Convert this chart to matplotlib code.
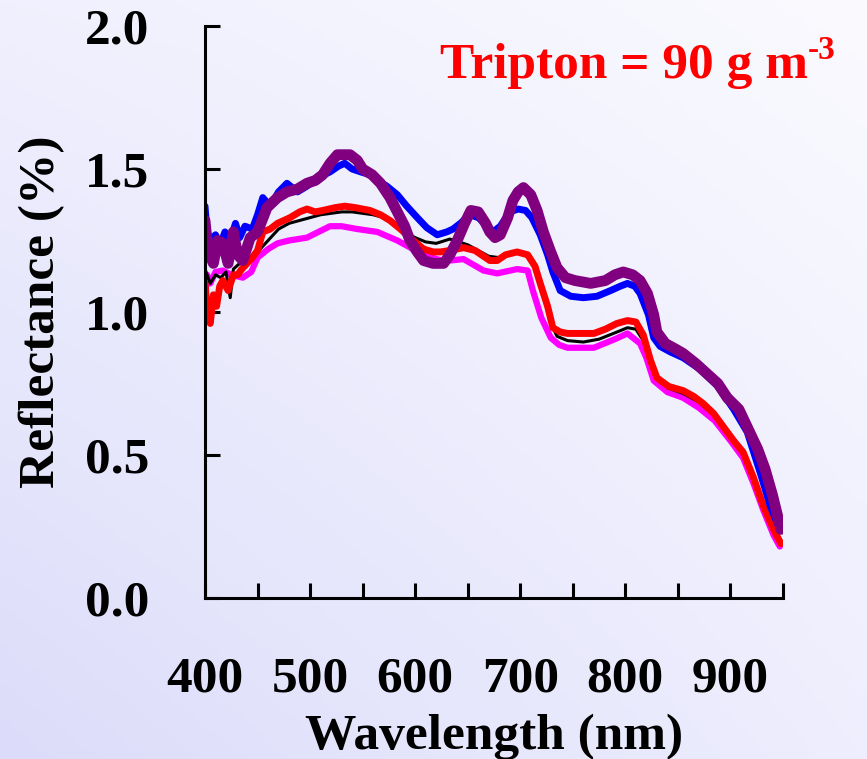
import numpy as np
import matplotlib
matplotlib.use("Agg")
import matplotlib.pyplot as plt

plt.rcParams['font.family'] = ['Liberation Serif', 'DejaVu Serif']
plt.rcParams['font.weight'] = 'bold'

# reflectance spectra, tripton 90 g m-3
wl_purple = [400, 403, 408, 412, 417, 422, 427, 431, 436, 443, 450, 459, 469, 478, 488, 497,
             505, 512, 519, 526, 531, 538, 545, 550, 559, 567, 576, 583, 590, 595, 602, 608,
             617, 627, 633, 640, 647, 653, 660, 667, 671, 676, 681, 688, 693, 698, 703, 710,
             716, 722, 729, 735, 743, 752, 767, 781, 790, 798, 807, 814, 821, 827, 830, 838,
             848, 855, 867, 876, 888, 897, 908, 917, 926, 933, 940, 946, 948]
r_purple = [1.32, 1.21, 1.17, 1.25, 1.24, 1.17, 1.28, 1.20, 1.18, 1.26, 1.28, 1.365, 1.40, 1.42,
            1.43, 1.45, 1.46, 1.48, 1.52, 1.55, 1.55, 1.55, 1.53, 1.50, 1.48, 1.45, 1.40, 1.35,
            1.30, 1.25, 1.21, 1.18, 1.17, 1.17, 1.20, 1.25, 1.31, 1.355, 1.35, 1.31, 1.28, 1.26,
            1.27, 1.33, 1.39, 1.42, 1.435, 1.41, 1.355, 1.28, 1.21, 1.155, 1.12, 1.11, 1.10, 1.11,
            1.13, 1.14, 1.13, 1.11, 1.065, 0.99, 0.93, 0.89, 0.87, 0.855, 0.82, 0.79, 0.75, 0.70,
            0.66, 0.59, 0.52, 0.45, 0.36, 0.27, 0.24]

wl_blue = [400, 402, 405, 410, 414, 419, 424, 429, 433, 438, 445, 450, 455, 462, 470, 478, 488,
           497, 508, 519, 527, 533, 540, 548, 557, 564, 573, 583, 592, 602, 611, 621, 630, 636,
           643, 652, 660, 669, 674, 681, 690, 698, 705, 711, 719, 726, 731, 738, 748, 760, 773,
           786, 795, 802, 809, 814, 822, 827, 833, 843, 855, 871, 888, 903, 916, 929, 938, 947]
r_blue = [1.37, 1.28, 1.25, 1.27, 1.23, 1.28, 1.25, 1.31, 1.26, 1.30, 1.29, 1.34, 1.40, 1.37,
          1.42, 1.45, 1.42, 1.44, 1.47, 1.49, 1.51, 1.52, 1.50, 1.49, 1.48, 1.46, 1.44, 1.41,
          1.37, 1.33, 1.295, 1.27, 1.28, 1.29, 1.31, 1.34, 1.33, 1.30, 1.28, 1.30, 1.35, 1.36,
          1.355, 1.33, 1.27, 1.20, 1.14, 1.075, 1.055, 1.05, 1.055, 1.075, 1.09, 1.10, 1.09,
          1.065, 0.99, 0.91, 0.88, 0.86, 0.84, 0.80, 0.74, 0.66, 0.58, 0.43, 0.32, 0.24]

wl_red = [400, 402, 405, 408, 411, 414, 417, 422, 427, 431, 435, 440, 445, 450, 455, 462, 469,
          481, 490, 497, 505, 512, 524, 533, 543, 557, 567, 576, 586, 595, 608, 617, 624, 633,
          646, 657, 671, 678, 686, 697, 707, 714, 719, 726, 731, 738, 745, 757, 770, 781, 792,
          802, 810, 817, 824, 830, 841, 855, 865, 874, 884, 893, 903, 912, 922, 931, 941, 948]
r_red = [1.10, 1.01, 0.96, 1.06, 1.02, 1.09, 1.11, 1.075, 1.13, 1.13, 1.15, 1.17, 1.19, 1.215,
         1.28, 1.29, 1.31, 1.33, 1.35, 1.36, 1.35, 1.355, 1.365, 1.37, 1.365, 1.355, 1.34, 1.32,
         1.29, 1.26, 1.22, 1.21, 1.21, 1.215, 1.225, 1.215, 1.18, 1.18, 1.20, 1.21, 1.20, 1.16,
         1.10, 1.02, 0.945, 0.93, 0.925, 0.925, 0.925, 0.94, 0.96, 0.97, 0.965, 0.92, 0.83,
         0.77, 0.74, 0.725, 0.705, 0.68, 0.645, 0.60, 0.55, 0.51, 0.42, 0.325, 0.24, 0.19]

wl_black = [400, 405, 410, 415, 420, 424, 427, 433, 440, 450, 460, 470, 480, 490, 500, 510, 520,
            530, 540, 550, 560, 570, 580, 590, 600, 610, 620, 633, 650, 660, 670, 680, 690, 700,
            710, 717, 722, 728, 735, 745, 760, 775, 792, 802, 810, 817, 823, 830, 840, 855, 870,
            885, 900, 912, 922, 931, 941, 948]
r_black = [1.15, 1.10, 1.13, 1.12, 1.14, 1.05, 1.15, 1.17, 1.18, 1.21, 1.25, 1.29, 1.31, 1.32,
           1.33, 1.34, 1.345, 1.35, 1.35, 1.345, 1.34, 1.33, 1.31, 1.28, 1.26, 1.245, 1.24, 1.255,
           1.235, 1.215, 1.195, 1.19, 1.205, 1.21, 1.185, 1.13, 1.06, 0.97, 0.915, 0.90, 0.895,
           0.905, 0.93, 0.945, 0.94, 0.90, 0.83, 0.765, 0.735, 0.715, 0.685, 0.635, 0.56, 0.50,
           0.41, 0.315, 0.23, 0.19]

wl_magenta = [400, 402, 405, 410, 417, 425, 436, 444, 450, 460, 469, 480, 497, 508, 519, 530,
              545, 564, 583, 608, 625, 633, 646, 665, 678, 697, 707, 712, 720, 729, 737, 745,
              770, 790, 802, 814, 820, 827, 840, 855, 870, 885, 900, 912, 922, 931, 941, 947]
r_magenta = [1.05, 1.13, 1.10, 1.14, 1.145, 1.13, 1.12, 1.14, 1.19, 1.22, 1.24, 1.25, 1.26,
             1.28, 1.30, 1.30, 1.29, 1.28, 1.25, 1.20, 1.18, 1.18, 1.185, 1.145, 1.135, 1.15,
             1.145, 1.075, 0.98, 0.91, 0.885, 0.875, 0.875, 0.905, 0.925, 0.89, 0.84, 0.76,
             0.72, 0.70, 0.665, 0.62, 0.55, 0.49, 0.40, 0.31, 0.22, 0.18]

W, H = 867, 759
fig = plt.figure(figsize=(W / 100, H / 100), dpi=100)

# soft lavender gradient behind everything
bg = fig.add_axes([0, 0, 1, 1], zorder=-10)
tl = np.array([240, 240, 254]) / 255
tr = np.array([250, 250, 255]) / 255
bl = np.array([220, 220, 250]) / 255
br = np.array([238, 238, 254]) / 255
u = np.linspace(0, 1, 200)[None, :, None]
v = np.linspace(0, 1, 200)[:, None, None]
grad = (1 - v) * ((1 - u) * tl + u * tr) + v * ((1 - u) * bl + u * br)
bg.imshow(grad, aspect='auto', extent=[0, 1, 0, 1], origin='upper')
bg.axis('off')

ax = fig.add_axes([205 / W, 1 - 598 / H, 578 / W, 572 / H])
ax.patch.set_alpha(0)

ax.plot(wl_magenta, r_magenta, color='#FF00FF', lw=4.5, solid_joinstyle='round', solid_capstyle='round')
ax.plot(wl_black, r_black, color='black', lw=2.2)
ax.plot(wl_red, r_red, color='#FF0000', lw=5, solid_joinstyle='round', solid_capstyle='round')
ax.plot(wl_blue, r_blue, color='#0000FF', lw=5, solid_joinstyle='round', solid_capstyle='round')
ax.plot(wl_purple, r_purple, color='#800080', lw=7.8, solid_joinstyle='round', solid_capstyle='round')

ax.set_xlim(400, 950)
ax.set_ylim(0, 2.0)
ax.set_xticks([400, 500, 600, 700, 800, 900])
ax.set_xticks([450, 550, 650, 750, 850, 950], minor=True)
ax.set_yticks([0, 0.5, 1.0, 1.5, 2.0])
ax.set_yticklabels(['0.0', '0.5', '1.0', '1.5', '2.0'])

for s in ['top', 'right']:
    ax.spines[s].set_visible(False)
for s in ['left', 'bottom']:
    ax.spines[s].set_linewidth(2.2)

ax.tick_params(axis='both', which='both', direction='in', length=11, width=2.2, labelsize=37)
ax.tick_params(axis='x', which='both', pad=42)
ax.tick_params(axis='y', pad=40)
for lbl in ax.get_xticklabels() + ax.get_yticklabels():
    lbl.set_fontweight('bold')

ax.set_xlabel('Wavelength (nm)', fontsize=37, fontweight='bold', labelpad=8)
ax.set_ylabel('Reflectance (%)', fontsize=37, fontweight='bold', labelpad=14)

t = fig.text(808 / W, 1 - 78 / H, 'Tripton = 90 g m', color='#FF0000', fontsize=37,
             fontweight='bold', ha='right', va='baseline')
ax.annotate('-3', xy=(1, 0.5), xycoords=t, color='#FF0000', fontsize=24,
            fontweight='bold', ha='left', va='bottom')

fig.savefig('out.png', dpi=100)
